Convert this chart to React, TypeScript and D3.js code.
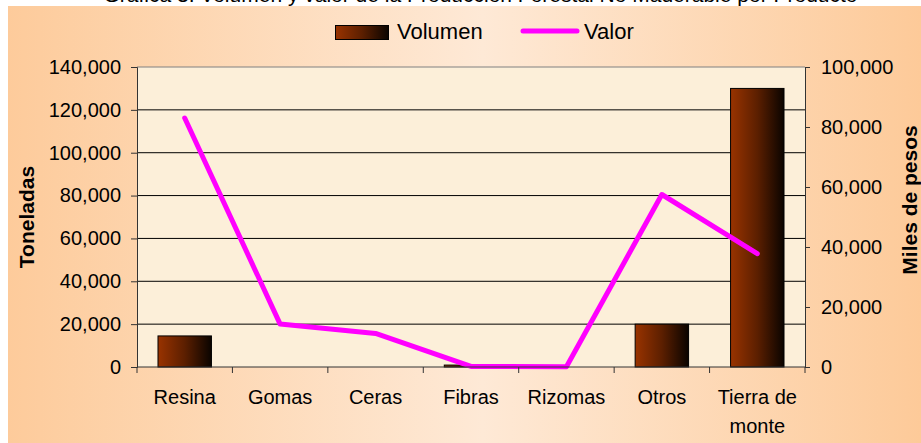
import React, { useEffect, useRef } from 'react';
import * as d3 from 'd3';

const categories = ['Resina', 'Gomas', 'Ceras', 'Fibras', 'Rizomas', 'Otros', 'Tierra de monte'];
const volumen = [14500, 0, 0, 900, 0, 20000, 130000];
const valor = [83000, 14300, 11200, 200, 100, 57500, 37800];
const leftTicks = [0, 20000, 40000, 60000, 80000, 100000, 120000, 140000];
const rightTicks = [0, 20000, 40000, 60000, 80000, 100000];
const title = 'Gráfica 3. Volumen y valor de la Producción Forestal No Maderable por Producto';

const W = 921;
const H = 443;

const App: React.FC = () => {
  const svgRef = useRef<SVGSVGElement>(null);

  useEffect(() => {
    if (!svgRef.current) return;
    const margin = { top: 67, right: 116, bottom: 76, left: 137 };
    const width = W - margin.left - margin.right;
    const height = H - margin.top - margin.bottom;
    const font = 'Arial, "Liberation Sans", sans-serif';
    const fmt = d3.format(',');

    const root = d3.select(svgRef.current);
    root.selectAll('*').remove();
    root.attr('width', W).attr('height', H);

    const defs = root.append('defs');
    const bg = defs.append('linearGradient').attr('id', 'bg').attr('x1', 0).attr('x2', 1).attr('y1', 0).attr('y2', 0);
    bg.append('stop').attr('offset', 0).attr('stop-color', '#FDCB9B');
    bg.append('stop').attr('offset', 0.52).attr('stop-color', '#FEE9D6');
    bg.append('stop').attr('offset', 1).attr('stop-color', '#FDCA99');
    const barG = defs.append('linearGradient').attr('id', 'barG').attr('x1', 0).attr('x2', 1).attr('y1', 0).attr('y2', 0);
    barG.append('stop').attr('offset', 0).attr('stop-color', '#993300');
    barG.append('stop').attr('offset', 0.5).attr('stop-color', '#5C1F00');
    barG.append('stop').attr('offset', 1).attr('stop-color', '#0A0400');

    // clipped title on white strip
    root.append('rect').attr('width', W).attr('height', H).attr('fill', '#fff');
    root.append('text')
      .attr('x', W / 2 + 20).attr('y', 2)
      .attr('text-anchor', 'middle')
      .style('font-family', font).style('font-size', '21px')
      .text(title);
    root.append('rect').attr('x', 8).attr('y', 6).attr('width', W - 8).attr('height', H - 6).attr('fill', 'url(#bg)');

    const g = root.append('g').attr('transform', `translate(${margin.left},${margin.top})`);

    const x = d3.scaleBand<string>().domain(categories).range([0, width]).padding(0);
    const yL = d3.scaleLinear().domain([0, 140000]).range([height, 0]);
    const yR = d3.scaleLinear().domain([0, 100000]).range([height, 0]);

    // plot area
    g.append('rect').attr('width', width).attr('height', height).attr('fill', '#FCEFD9');
    g.append('line').attr('x1', 0).attr('x2', width).attr('y1', 0).attr('y2', 0).attr('stroke', '#808080');

    // grid
    g.selectAll('.grid').data(leftTicks.slice(1, -1)).enter().append('line')
      .attr('x1', 0).attr('x2', width)
      .attr('y1', d => yL(d)).attr('y2', d => yL(d))
      .attr('stroke', '#000').attr('stroke-width', 1);

    // bars
    const bw = x.bandwidth() * 0.56;
    g.selectAll('.bar').data(categories).enter().append('rect')
      .attr('x', d => (x(d) as number) + x.bandwidth() / 2 - bw / 2)
      .attr('width', bw)
      .attr('y', (d, i) => yL(volumen[i]))
      .attr('height', (d, i) => height - yL(volumen[i]))
      .attr('fill', 'url(#barG)')
      .attr('stroke', '#000').attr('stroke-width', (d, i) => (volumen[i] > 0 ? 1 : 0));

    // line
    const line = d3.line<number>()
      .x((d, i) => (x(categories[i]) as number) + x.bandwidth() / 2)
      .y(d => yR(d));
    g.append('path').datum(valor).attr('d', line)
      .attr('fill', 'none').attr('stroke', '#FF00FF').attr('stroke-width', 5)
      .attr('stroke-linejoin', 'round').attr('stroke-linecap', 'round');

    // left axis
    const axL = g.append('g').call(d3.axisLeft(yL).tickValues(leftTicks).tickFormat(d => fmt(d as number)).tickSize(6).tickPadding(10));
    axL.select('.domain').attr('stroke', '#333');
    axL.selectAll('.tick line').attr('stroke', '#333');
    axL.selectAll('text').style('font-family', font).style('font-size', '20px').attr('fill', '#000');

    // right axis
    const axR = g.append('g').attr('transform', `translate(${width},0)`)
      .call(d3.axisRight(yR).tickValues(rightTicks).tickFormat(d => fmt(d as number)).tickSize(5).tickPadding(11));
    axR.select('.domain').attr('stroke', '#333');
    axR.selectAll('.tick line').attr('stroke', '#333');
    axR.selectAll('text').style('font-family', font).style('font-size', '20px').attr('fill', '#000');

    // bottom axis
    const axB = g.append('g').attr('transform', `translate(0,${height})`);
    axB.append('line').attr('x1', 0).attr('x2', width).attr('stroke', '#333');
    axB.selectAll('.tk').data(d3.range(categories.length + 1)).enter().append('line')
      .attr('x1', i => x.step() * i).attr('x2', i => x.step() * i)
      .attr('y1', 0).attr('y2', 6).attr('stroke', '#333');
    const lbl = axB.selectAll('.lbl').data(categories).enter().append('text')
      .attr('x', d => (x(d) as number) + x.bandwidth() / 2)
      .attr('y', 37)
      .attr('text-anchor', 'middle')
      .style('font-family', font).style('font-size', '20px');
    lbl.each(function (d) {
      const t = d3.select(this);
      const parts = d === 'Tierra de monte' ? ['Tierra de', 'monte'] : [d];
      parts.forEach((p, k) => {
        t.append('tspan').attr('x', (x(d) as number) + x.bandwidth() / 2).attr('dy', k === 0 ? 0 : 29).text(p);
      });
    });

    // axis titles
    root.append('text')
      .attr('transform', `translate(34,217) rotate(-90)`)
      .attr('text-anchor', 'middle')
      .style('font-family', font).style('font-size', '21px').style('font-weight', 'bold')
      .text('Toneladas');
    root.append('text')
      .attr('transform', `translate(917,200) rotate(-90)`)
      .attr('text-anchor', 'middle')
      .style('font-family', font).style('font-size', '21px').style('font-weight', 'bold')
      .text('Miles de pesos');

    // legend
    const lg = root.append('g');
    lg.append('rect').attr('x', 335.5).attr('y', 25.5).attr('width', 53).attr('height', 14)
      .attr('fill', 'url(#barG)').attr('stroke', '#000');
    lg.append('text').attr('x', 397).attr('y', 39)
      .style('font-family', font).style('font-size', '22px').text('Volumen');
    lg.append('line').attr('x1', 523).attr('x2', 577).attr('y1', 31).attr('y2', 31)
      .attr('stroke', '#FF00FF').attr('stroke-width', 5).attr('stroke-linecap', 'round');
    lg.append('text').attr('x', 584).attr('y', 39)
      .style('font-family', font).style('font-size', '22px').text('Valor');
  }, []);

  return (
    <div style={{ position: 'absolute', left: 0, top: 0 }}>
      <svg ref={svgRef} style={{ display: 'block' }}></svg>
    </div>
  );
};

export default App;
